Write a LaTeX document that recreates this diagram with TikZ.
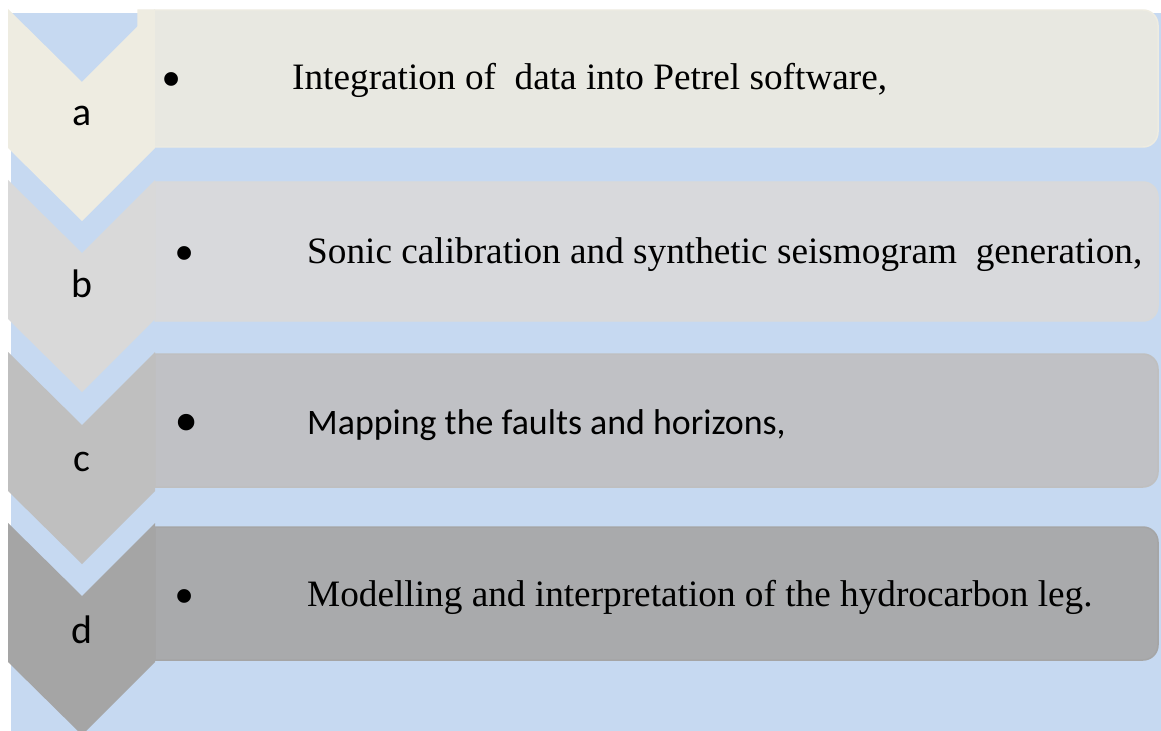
\documentclass[tikz,border=0pt]{standalone}
\usepackage{fontspec}
\setmainfont{Liberation Serif}
\newfontfamily\calib{Carlito}
\definecolor{bgblue}{HTML}{C6D9F1}
\definecolor{chevA}{HTML}{EEECE1}
\definecolor{boxA}{HTML}{E8E8E1}
\definecolor{chevB}{HTML}{D9D9D9}
\definecolor{boxB}{HTML}{D8D9DC}
\definecolor{chevC}{HTML}{BFBFBF}
\definecolor{boxC}{HTML}{C0C1C5}
\definecolor{chevD}{HTML}{A5A5A5}
\definecolor{boxD}{HTML}{A9AAAC}
\tikzset{
  letter/.style={font=\calib\fontsize{40}{46}\selectfont, inner sep=0pt, anchor=base},
  serifitem/.style={font=\fontsize{37.4}{44}\selectfont, inner sep=0pt, anchor=base west},
  sansitem/.style={font=\calib\fontsize{36}{43}\selectfont, inner sep=0pt, anchor=base west},
  bulletmark/.style={font=\fontsize{34}{40}\selectfont, inner sep=0pt, anchor=center, scale=1.7},
}
% chevron with top edge at y = #2
\newcommand{\chevronshape}[2]{%
  \fill[#1] (8,#2) -- (82,#2+73) -- (155,#2) -- (155,#2+139) -- (82,#2+212) -- (8,#2+139) -- cycle;}
% text panel, square on the left, rounded on the right
\newcommand{\panelshape}[5]{%
  \filldraw[fill=#1, draw=#2, line width=1.5] (#3,#4) -- (1143,#4) arc[start angle=-90, end angle=0, radius=15]
    -- (1158,#5-15) arc[start angle=0, end angle=90, radius=15] -- (#3,#5) -- cycle;}
\begin{document}
\begin{tikzpicture}[x=1bp, y=-1bp]
\useasboundingbox (0,0) rectangle (1161,731);
\fill[bgblue] (11,13) rectangle (1161,731);

% panels
\panelshape{boxA}{chevA}{138}{10}{147}
\panelshape{boxB}{chevB}{155}{182}{321}
\panelshape{boxC}{chevC}{155}{354}{487}
\panelshape{boxD}{chevD}{155}{527}{660}
\fill[chevA] (138,10) rectangle (155,146);

% chevrons
\chevronshape{chevA}{9}
\chevronshape{chevB}{180}
\chevronshape{chevC}{352}
\chevronshape{chevD}{523}

% step letters
\node[letter] (la) at (82,126) {a};
\node[letter] (lb) at (82,297) {b};
\node[letter] (lc) at (82,471) {c};
\node[letter] (ld) at (82,643) {d};

% bullets
\node[bulletmark] (ba) at (172,86) {•};
\node[bulletmark] (bb) at (185,260) {•};
\node[bulletmark, scale=1.2] (bc) at (187,430) {•};
\node[bulletmark] (bd) at (185,603) {•};

% step texts
\node[serifitem] (ta) at (292,90) {Integration of\ \ data into Petrel software,};
\node[serifitem] (tb) at (307,263) {Sonic calibration and synthetic seismogram\ \ generation,};
\node[sansitem] (tc) at (307,434) {Mapping the faults and horizons,};
\node[serifitem] (td) at (307,606) {Modelling and interpretation of the hydrocarbon leg.};
\end{tikzpicture}
\end{document}
